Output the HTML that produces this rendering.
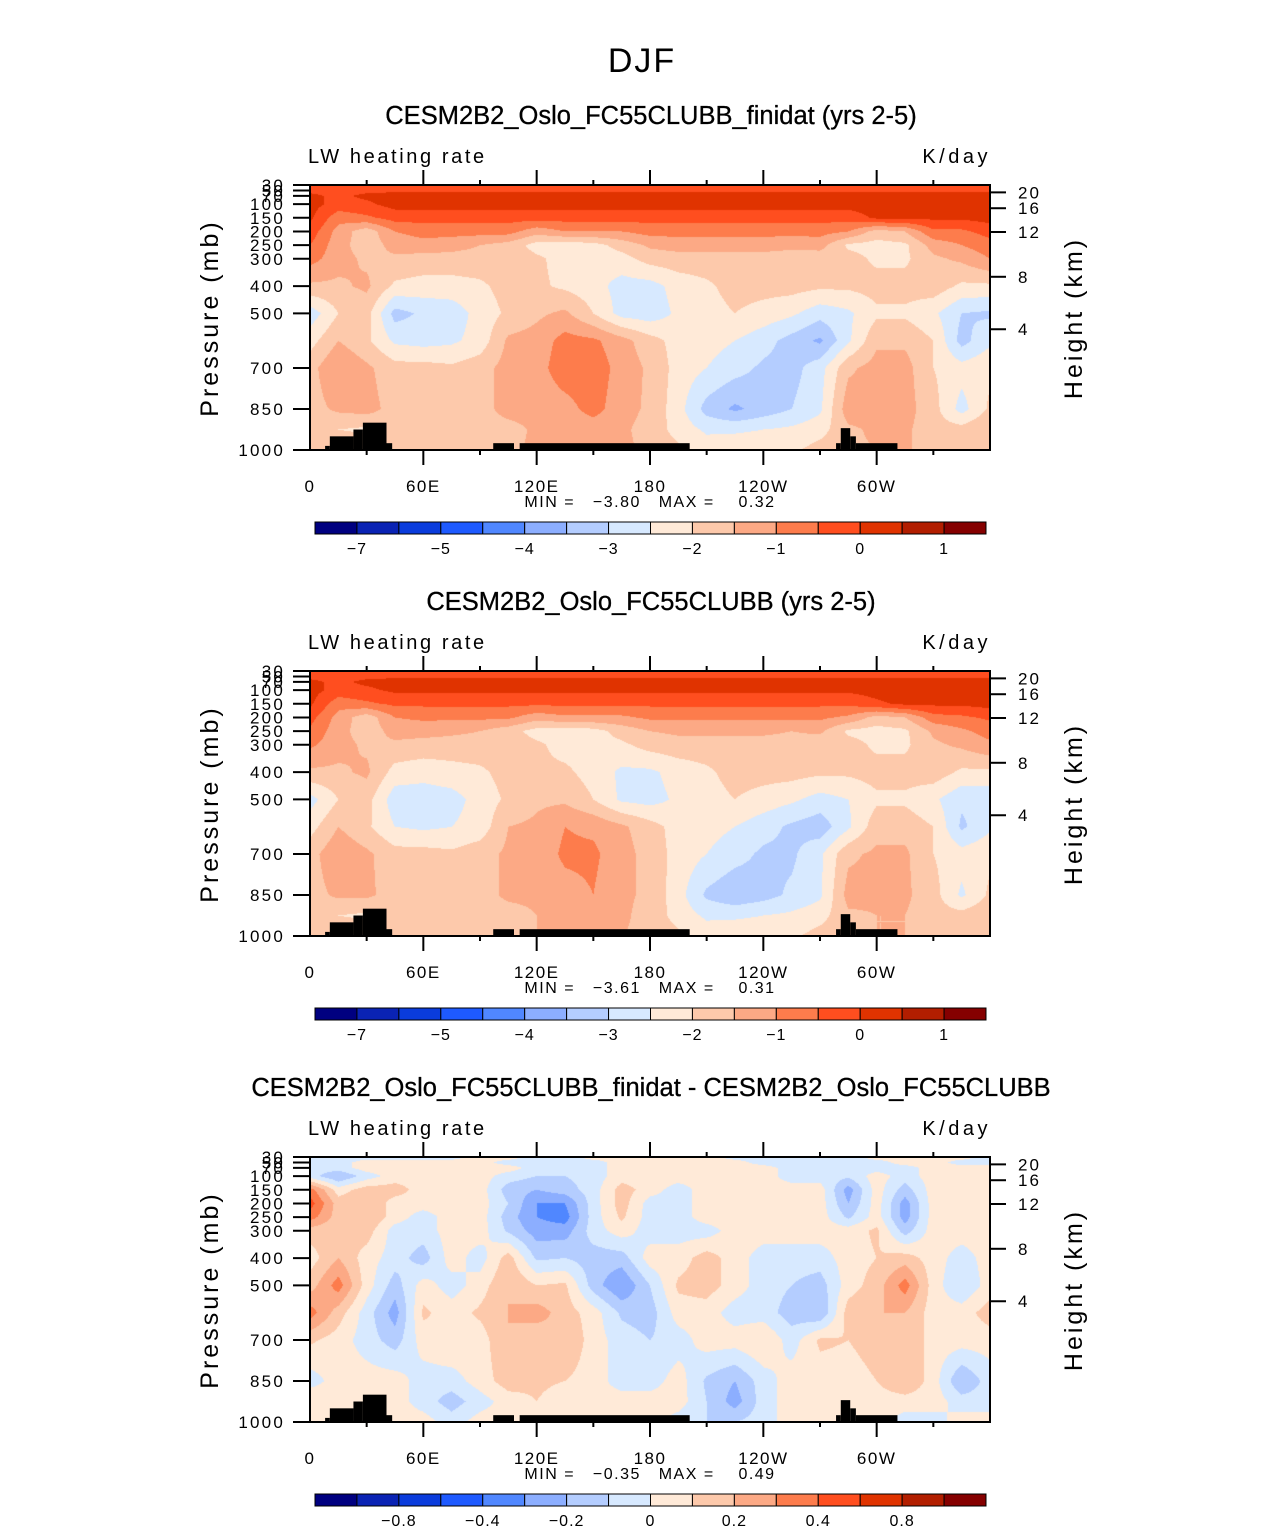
<!DOCTYPE html>
<html><head><meta charset="utf-8"><style>
html,body{margin:0;padding:0;background:#fff;width:1285px;height:1531px;overflow:hidden;position:relative;font-family:"Liberation Sans",sans-serif}
canvas{position:absolute}
svg{position:absolute;left:0;top:0}
</style></head><body>
<canvas id="c0" width="680" height="265" style="left:310px;top:185px"></canvas>
<canvas id="c1" width="680" height="265" style="left:310px;top:671px"></canvas>
<canvas id="c2" width="680" height="265" style="left:310px;top:1157px"></canvas>
<svg id="ov" width="1285" height="1531"></svg>
<script>
const lons=[0,15,30,45,60,75,90,105,120,135,150,165,180,195,210,225,240,255,270,285,300,315,330,345,360];
const plevs=[30,50,70,100,150,200,250,300,400,500,600,700,850,925,1000];
const field1=[
[-.2,-.2,-.2,-.2,-.2,-.2,-.2,-.2,-.2,-.2,-.2,-.2,-.2,-.2,-.2,-.2,-.2,-.2,-.2,-.2,-.2,-.2,-.2,-.2,-.2],
[-.1,-.2,-.1,-.1,-.1,-.1,-.1,-.1,-.1,-.1,-.1,-.1,-.1,-.1,-.1,-.1,-.1,-.1,-.1,-.1,-.1,-.1,-.1,-.1,-.1],
[.1,-.1,.1,.2,.2,.2,.2,.2,.2,.2,.2,.2,.2,.2,.2,.2,.2,.2,.2,.2,.2,.3,.3,.3,.3],
[.2,-.2,-.1,.2,.2,.2,.2,.2,.2,.2,.2,.2,.2,.2,.2,.2,.2,.2,.2,.2,.3,.3,.3,.3,.3],
[.1,-.8,-.6,-.3,-.3,-.3,-.3,-.3,-.3,-.3,-.3,-.3,-.3,-.3,-.3,-.3,-.3,-.3,-.3,-.3,.1,.1,.1,.1,.2],
[-.2,-1.2,-1.8,-1,-.8,-.8,-.8,-.8,-1.3,-1,-1,-1,-.8,-.8,-.8,-.8,-.8,-.8,-.8,-1,-1.7,-1.5,-.6,-.6,-.3],
[-.5,-1.3,-1.8,-1.3,-1.2,-1.3,-1.5,-1.7,-2.2,-2.3,-2.2,-1.8,-1.4,-1.3,-1.3,-1.3,-1.3,-1.4,-1.3,-2.1,-2.2,-2.1,-1.3,-1,-.7],
[-.8,-1.3,-1.6,-1.6,-1.7,-1.7,-1.7,-1.7,-1.9,-2.2,-2.3,-2.2,-1.8,-1.7,-1.7,-1.7,-1.7,-1.7,-1.8,-1.8,-2.1,-2.1,-1.6,-1.4,-1],
[-1.6,-1.6,-1.4,-2.1,-2.2,-2.2,-2.1,-1.8,-1.9,-2.1,-2.3,-2.7,-2.7,-2.3,-2.1,-1.8,-1.8,-1.8,-1.9,-1.9,-1.8,-1.8,-1.7,-2.1,-2.1],
[-2.8,-2,-1.8,-3.2,-2.9,-2.8,-2.3,-1.9,-1.6,-1.4,-2,-2.7,-2.8,-2.4,-2.2,-2,-2.2,-2.4,-2.8,-2.6,-2.1,-2.1,-2.4,-3,-3.1],
[-2.2,-1.5,-1.9,-2.6,-2.7,-2.6,-2.3,-1.4,-1.3,-.8,-.9,-1.3,-1.8,-2.2,-2.3,-2.5,-2.8,-3.2,-3.6,-2.6,-1.6,-1.6,-2,-3.2,-2.6],
[-1.7,-1,-1.4,-1.8,-1.8,-1.9,-1.7,-1.3,-1.2,-.7,-.7,-1.2,-1.6,-2.2,-2.5,-2.8,-3.1,-3.2,-2.7,-1.6,-1.3,-1.3,-2,-2.3,-2.1],
[-1.7,-1.4,-1.3,-1.7,-1.8,-1.7,-1.7,-1.3,-1.3,-1.2,-.8,-1.3,-1.6,-2.3,-3.2,-3.6,-3.3,-3,-2.6,-1.2,-1.3,-1.3,-1.8,-2.7,-1.9],
[-1.6,-2,-2.1,-1.7,-1.7,-1.7,-1.7,-1.7,-1.4,-1.3,-1.3,-1.4,-1.7,-2.2,-2.6,-2.6,-2.5,-2.4,-2.2,-1.6,-1.4,-1.4,-1.8,-1.8,-1.5],
[-1.5,-1.6,-1.6,-1.6,-1.6,-1.6,-1.6,-1.6,-1.4,-1.4,-1.4,-1.4,-1.6,-1.9,-2.2,-2.1,-2.1,-2.1,-1.8,-1.6,-1.5,-1.5,-1.5,-1.5,-1.5]];
const field2=[
[-.2,-.2,-.2,-.2,-.2,-.2,-.2,-.2,-.2,-.2,-.2,-.2,-.2,-.2,-.2,-.2,-.2,-.2,-.2,-.2,-.2,-.2,-.2,-.2,-.2],
[-.1,-.2,-.1,-.1,-.1,-.1,-.1,-.1,-.1,-.1,-.1,-.1,-.1,-.1,-.1,-.1,-.1,-.1,-.1,-.1,-.1,-.1,-.1,-.1,-.1],
[.1,-.1,.1,.2,.2,.2,.2,.2,.2,.2,.2,.2,.2,.2,.2,.2,.2,.2,.2,.2,.2,.3,.3,.3,.3],
[.2,-.2,-.1,.1,.1,.1,.1,.1,.1,.1,.1,.1,.1,.1,.1,.1,.1,.1,.1,.1,.2,.3,.3,.3,.3],
[.1,-.8,-.6,-.4,-.4,-.4,-.4,-.4,-.4,-.4,-.4,-.4,-.4,-.4,-.4,-.4,-.4,-.4,-.4,-.4,-.1,.1,.1,.1,.2],
[-.3,-1.2,-1.8,-1,-.9,-.9,-.9,-.9,-1.3,-1.1,-1.1,-1.1,-.9,-.9,-.9,-.9,-.9,-.9,-.9,-1.1,-1.7,-1.5,-.7,-.6,-.4],
[-.6,-1.3,-1.8,-1.3,-1.3,-1.4,-1.5,-1.8,-2.2,-2.3,-2.2,-1.8,-1.5,-1.4,-1.4,-1.4,-1.4,-1.5,-1.4,-2.1,-2.2,-2.1,-1.4,-1.1,-.8],
[-.9,-1.3,-1.6,-1.6,-1.7,-1.7,-1.7,-1.7,-1.9,-2.2,-2.2,-2.1,-1.8,-1.7,-1.7,-1.7,-1.7,-1.7,-1.8,-1.8,-2.1,-2.1,-1.6,-1.4,-1.1],
[-1.6,-1.6,-1.4,-2.2,-2.3,-2.2,-2.1,-1.8,-1.9,-1.9,-2.2,-2.6,-2.6,-2.3,-2.1,-1.8,-1.8,-1.8,-1.9,-1.9,-1.8,-1.8,-1.7,-2.1,-2.1],
[-2.7,-2,-1.8,-2.8,-2.8,-2.7,-2.3,-1.9,-1.6,-1.6,-2,-2.6,-2.7,-2.4,-2.2,-2,-2.2,-2.4,-2.7,-2.5,-2.1,-2.1,-2.4,-2.9,-2.9],
[-2.2,-1.5,-1.9,-2.5,-2.6,-2.5,-2.3,-1.5,-1.4,-1,-1.1,-1.4,-1.8,-2.2,-2.3,-2.5,-2.8,-3.1,-3.3,-2.6,-1.7,-1.7,-2,-3.1,-2.6],
[-1.7,-1.1,-1.4,-1.8,-1.8,-1.9,-1.7,-1.4,-1.3,-.9,-.9,-1.3,-1.7,-2.2,-2.5,-2.8,-3.1,-3.1,-2.6,-1.6,-1.4,-1.4,-2,-2.3,-2.1],
[-1.7,-1.4,-1.4,-1.7,-1.8,-1.7,-1.7,-1.4,-1.4,-1.2,-1,-1.4,-1.6,-2.3,-3.1,-3.4,-3.2,-2.9,-2.6,-1.3,-1.4,-1.4,-1.8,-2.6,-1.9],
[-1.6,-2,-2.1,-1.7,-1.7,-1.7,-1.7,-1.7,-1.5,-1.4,-1.4,-1.4,-1.7,-2.2,-2.6,-2.6,-2.5,-2.4,-2.2,-1.6,-1.5,-1.5,-1.8,-1.8,-1.6],
[-1.5,-1.6,-1.6,-1.6,-1.6,-1.6,-1.6,-1.6,-1.5,-1.5,-1.5,-1.5,-1.6,-1.9,-2.2,-2.1,-2.1,-2.1,-1.8,-1.6,-1.5,-1.5,-1.5,-1.5,-1.5]];
const field3=[
[-.05,-.05,-.05,-.05,-.05,-.05,.05,.05,-.05,-.05,.05,.05,.05,.05,.05,-.05,-.05,-.05,-.05,-.05,.05,.05,.05,.05,-.05],
[-.05,-.05,.05,.05,.05,.05,.05,-.05,-.05,-.05,-.05,.05,.05,.05,.05,.05,-.05,-.05,-.05,-.05,-.05,.05,.05,-.05,-.05],
[-.05,-.05,.05,.05,.05,.05,.05,.05,-.05,-.05,-.05,.05,.05,.05,.05,.05,.05,-.05,-.05,-.05,-.05,-.05,.05,.05,.05],
[-.05,-.2,-.05,.05,.05,.05,.05,-.05,-.1,-.1,-.05,.05,.05,.05,.05,.05,.05,-.05,-.05,-.08,.05,-.05,.05,.05,.05],
[.35,.05,.15,.15,.05,.05,.05,-.15,-.2,-.15,-.05,.15,.05,-.05,.05,.05,.05,.05,.05,-.25,.05,-.15,.05,.05,.05],
[.45,.15,.2,.05,.05,.05,.05,-.1,-.3,-.3,-.05,.15,-.05,-.05,.05,.05,.05,.05,.05,-.2,.05,-.25,.05,.05,.05],
[.35,.15,.2,.05,-.05,.05,.05,-.15,-.3,-.35,-.05,.12,-.05,-.05,.05,.05,.05,.05,.05,-.12,.05,-.25,.05,.05,.05],
[.15,.12,.15,-.05,-.05,.05,.05,-.12,-.25,-.25,-.05,.05,-.05,-.05,-.05,.05,.05,.05,.05,.05,.12,-.15,.05,.05,.05],
[.05,.2,.05,-.05,-.15,.05,-.05,.15,-.12,-.1,-.15,-.15,.05,.05,.15,.05,-.05,-.05,-.05,.05,.1,.15,.05,-.05,.05],
[.15,.35,.05,-.15,.05,-.05,.05,.2,.1,.12,-.15,-.3,-.1,.12,.15,.05,-.05,-.1,-.15,.05,.15,.35,.05,-.1,.05],
[.35,.15,-.05,-.25,.12,.05,.12,.2,.25,.15,.05,-.12,-.15,.05,.05,-.05,-.05,-.15,-.2,.15,.2,.2,.05,.05,.15],
[.12,.05,-.05,-.15,.05,.1,.05,.2,.12,.2,.05,-.05,-.1,-.05,.05,.05,.1,-.05,.12,.1,.15,.2,.05,.05,.05],
[-.05,.05,.05,.05,-.05,-.05,.05,.15,.12,.1,.05,-.05,-.05,.05,-.12,-.2,-.05,.05,.05,.05,.1,.2,.05,-.2,-.05],
[.1,.05,.05,.05,-.05,-.15,-.05,.05,.1,.05,.05,.05,.05,.05,-.1,-.25,-.05,.05,.05,.05,.05,.05,.05,-.05,-.05],
[.1,.05,.05,.05,.05,-.05,.05,.05,.05,.05,.05,.05,.05,-.05,-.1,-.1,-.05,.05,.05,.05,.05,-.05,-.05,.05,.05]];
const levelsAbs=[-7,-6,-5,-4.5,-4,-3.5,-3,-2.5,-2,-1.5,-1,-0.5,0,0.5,1];
const levelsDiff=[-1,-0.8,-0.6,-0.4,-0.3,-0.2,-0.1,0,0.1,0.2,0.3,0.4,0.6,0.8,1];
const tickLabAbs=["−7","−5","−4","−3","−2","−1","0","1"];
const tickLabDiff=["−0.8","−0.4","−0.2","0","0.2","0.4","0.8"];
const titles=["CESM2B2_Oslo_FC55CLUBB_finidat (yrs 2-5)","CESM2B2_Oslo_FC55CLUBB (yrs 2-5)","CESM2B2_Oslo_FC55CLUBB_finidat - CESM2B2_Oslo_FC55CLUBB"];
const minVals=["−3.80","−3.61","−0.35"];
const maxVals=["0.32","0.31","0.49"];
const plabels=[30,50,70,100,150,200,250,300,400,500,700,850,1000];
const hlabels=[20,16,12,8,4];
const hpress=[57,115,202,366,558];
const xlabels=["0","60E","120E","180","120W","60W"];
const xlabLons=[0,60,120,180,240,300];
const cols=["#000080","#0a23b4","#0a3cdc","#1e5aff","#5087ff","#8caeff","#b4cdff","#d7e9ff","#ffead8","#fdc9ab","#fca985","#fd7c4c","#ff4e1f","#e03300","#b21e00","#850000"];
const terrain=[[8,10.5,985],[10.5,23,950],[23,28,925],[28,40.5,900],[40.5,43.5,975],[97,108,975],[111,201,975],[278.5,281,975],[281,286,920],[286,289,950],[289,311,975]];

const X0=310,W=680,H=265;
function xOf(lon){return X0+lon/360*W;}
function yOf(p,top){return top+H-(1000-p)/970*H;}
const hex=c=>[parseInt(c.slice(1,3),16),parseInt(c.slice(3,5),16),parseInt(c.slice(5,7),16)];
const rgb=cols.map(hex);
function drawField(cid,field,levels){
  const cv=document.getElementById(cid),ctx=cv.getContext('2d');
  const img=ctx.createImageData(W,H);
  for(let j=0;j<H;j++){
    const p=30+(j+0.5)/H*970;
    let r=0;while(r<plevs.length-2&&plevs[r+1]<p)r++;
    const fy=Math.min(1,Math.max(0,(p-plevs[r])/(plevs[r+1]-plevs[r])));
    for(let i=0;i<W;i++){
      const lon=(i+0.5)/W*360;
      let c=Math.min(lons.length-2,Math.floor(lon/15));
      const fx=(lon-lons[c])/15;
      const v=(field[r][c]*(1-fx)+field[r][c+1]*fx)*(1-fy)+(field[r+1][c]*(1-fx)+field[r+1][c+1]*fx)*fy;
      let k=0;while(k<levels.length&&levels[k]<=v)k++;
      const o=(j*W+i)*4,cc=rgb[k];
      img.data[o]=cc[0];img.data[o+1]=cc[1];img.data[o+2]=cc[2];img.data[o+3]=255;
    }
  }
  ctx.putImageData(img,0,0);
}
drawField('c0',field1,levelsAbs);
drawField('c1',field2,levelsAbs);
drawField('c2',field3,levelsDiff);

const NS="http://www.w3.org/2000/svg",svg=document.getElementById('ov');
function el(tag,attrs,txt){const e=document.createElementNS(NS,tag);for(const k in attrs)e.setAttribute(k,attrs[k]);if(txt!==undefined)e.textContent=txt;svg.appendChild(e);return e;}
function txt(x,y,s,size,anchor,name,extra){
  const e=el('text',Object.assign({x:x,y:y,'font-size':size,'text-anchor':anchor||'start','font-family':'Liberation Sans, sans-serif',fill:'#000'},extra||{}),s);
  
  
  return e;
}
txt(642,72,"DJF",34,'middle','main-title',{'letter-spacing':'2'});
for(let k=0;k<3;k++){
  const off=k*486,top=185+off;
  txt(651,124+off,titles[k],25.5,'middle','panel-title',{stroke:'#000','stroke-width':'0.3'});
  txt(308,163+off,"LW heating rate",20,'start','variable-label',{'letter-spacing':'2.6'});
  txt(991,163+off,"K/day",20,'end','units-label',{'letter-spacing':'3.5'});
  for(const t of terrain){
    const r=el('rect',{x:xOf(t[0]),y:yOf(t[2],top),width:xOf(t[1])-xOf(t[0]),height:top+H-yOf(t[2],top),fill:'#000'});
    
    
  }
  const b=el('rect',{x:X0,y:top,width:W,height:H,fill:'none',stroke:'#000','stroke-width':2});
  
  
  for(const p of plabels){
    const y=yOf(p,top);
    el('line',{x1:293,y1:y,x2:X0,y2:y,stroke:'#000','stroke-width':2});
    txt(285,y+6,String(p),17,'end','pressure-tick-label',{'letter-spacing':'2.2'});
  }
  for(let i=0;i<hlabels.length;i++){
    const y=yOf(hpress[i],top);
    el('line',{x1:X0+W,y1:y,x2:X0+W+16,y2:y,stroke:'#000','stroke-width':2});
    txt(1018,y+6,String(hlabels[i]),17,'start','height-tick-label',{'letter-spacing':'2'});
  }
  txt(0,0,"Pressure (mb)",25,'middle','y-axis-title',{transform:`translate(218,${318+off}) rotate(-90)`,'letter-spacing':'3'});
  txt(0,0,"Height (km)",25,'middle','y2-axis-title',{transform:`translate(1082,${318+off}) rotate(-90)`,'letter-spacing':'3'});
  for(let l=30;l<360;l+=30){
    const x=xOf(l),maj=l%60===0;
    el('line',{x1:x,y1:top,x2:x,y2:top-(maj?15:5),stroke:'#000','stroke-width':2});
    el('line',{x1:x,y1:top+H,x2:x,y2:top+H+(maj?15:5),stroke:'#000','stroke-width':2});
  }
  for(let i=0;i<xlabels.length;i++) txt(xOf(xlabLons[i]),492+off,xlabels[i],17,'middle','x-tick-label',{'letter-spacing':'1.5'});
  txt(650,507+off,`MIN =   ${minVals[k]}   MAX =    ${maxVals[k]}`,16,'middle','min-max-label',{'xml:space':'preserve',style:'white-space:pre','letter-spacing':'1.5'});
  const cx0=315,bw=671/16,cy=522+off;
  for(let i=0;i<16;i++){
    const r=el('rect',{x:cx0+i*bw,y:cy,width:bw,height:12,fill:cols[i],stroke:'#000','stroke-width':1});
    
    
  }
  const labs=k<2?tickLabAbs:tickLabDiff;
  for(let i=0;i<labs.length;i++){
    const bi=k<2?1+2*i:2+2*i;
    txt(cx0+bi*bw,554+off,labs[i],16,'middle','colorbar-label',{'letter-spacing':'1'});
  }
}
</script>
</body></html>
